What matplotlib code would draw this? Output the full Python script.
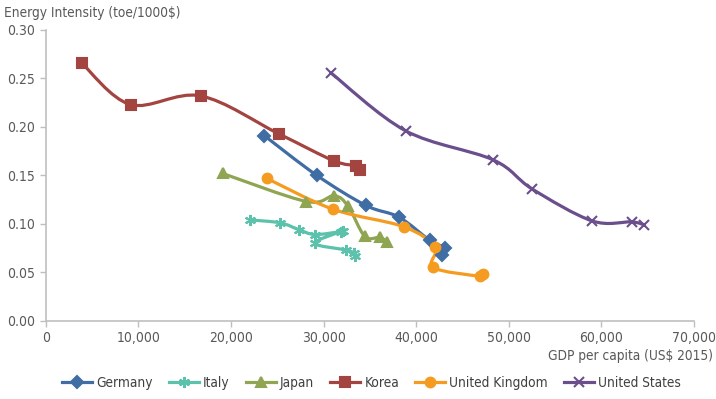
import numpy as np
import matplotlib
matplotlib.use("Agg")
import matplotlib.pyplot as plt
from matplotlib.path import Path
from matplotlib.patches import PathPatch
from matplotlib.lines import Line2D
from matplotlib.ticker import FuncFormatter, MultipleLocator

plt.rcParams['font.family'] = ['DejaVu Sans']
plt.rcParams['font.stretch'] = 'condensed'

# GDP per capita (US$ 2015) and energy intensity (toe/1000$)
germany_x = [23600, 29270, 34570, 38130, 41480, 43100, 42750]
germany_y = [0.191, 0.150, 0.119, 0.107, 0.083, 0.075, 0.068]

italy_x = [22110, 25350, 27330, 29060, 31840, 32120, 29060, 32410, 33270, 33430]
italy_y = [0.104, 0.101, 0.094, 0.089, 0.092, 0.093, 0.080, 0.073, 0.070, 0.067]

japan_x = [19090, 28160, 31140, 32660, 34460, 36080, 36870]
japan_y = [0.152, 0.123, 0.129, 0.118, 0.087, 0.086, 0.081]

korea_x = [3860, 9150, 16710, 25140, 31110, 33490, 33920]
korea_y = [0.266, 0.223, 0.232, 0.193, 0.165, 0.160, 0.156]

uk_x = [23840, 31040, 38670, 42050, 41840, 46880, 47200]
uk_y = [0.147, 0.115, 0.097, 0.076, 0.055, 0.046, 0.048]

us_x = [30760, 38860, 48320, 52530, 59020, 63270, 64630]
us_y = [0.256, 0.196, 0.166, 0.136, 0.103, 0.102, 0.099]

names = ["Germany", "Italy", "Japan", "Korea", "United Kingdom", "United States"]
series_x = [germany_x, italy_x, japan_x, korea_x, uk_x, us_x]
series_y = [germany_y, italy_y, japan_y, korea_y, uk_y, us_y]
colors = ["#3F6DA4", "#5CC2AC", "#8FA552", "#A34441", "#F49B20", "#6A4F8C"]
markers = ["D", (6, 2, 0), "^", "s", "o", "x"]
msizes = [6, 8, 6.5, 7, 7, 7]


def smooth_path(xs, ys):
    # Excel-like smoothed line: cubic Bezier through points (Catmull-Rom control points)
    p = np.column_stack([xs, ys]).astype(float)
    n = len(p)
    verts = [p[0]]
    codes = [Path.MOVETO]
    for i in range(n - 1):
        p0 = p[i - 1] if i > 0 else p[i]
        p3 = p[i + 2] if i + 2 < n else p[i + 1]
        c1 = p[i] + (p[i + 1] - p0) / 6.0
        c2 = p[i + 1] - (p3 - p[i]) / 6.0
        verts += [c1, c2, p[i + 1]]
        codes += [Path.CURVE4] * 3
    return Path(verts, codes)


fig = plt.figure(figsize=(7.16, 3.99), dpi=100)
ax = fig.add_axes([0.064, 0.196, 0.905, 0.729])

handles = []
for xs, ys, c, m, ms, name in zip(series_x, series_y, colors, markers, msizes, names):
    ax.add_patch(PathPatch(smooth_path(xs, ys), facecolor="none", edgecolor=c, lw=2.3,
                           capstyle="round", joinstyle="round", zorder=2))
    ax.plot(xs, ys, ls="none", marker=m, ms=ms, color=c, mec=c, mew=1.5, zorder=3)
    handles.append(Line2D([], [], color=c, lw=2.3, marker=m, ms=ms, mec=c, mew=1.5, label=name))

ax.set_xlim(0, 70000)
ax.set_ylim(0, 0.30)
ax.xaxis.set_major_locator(MultipleLocator(10000))
ax.yaxis.set_major_locator(MultipleLocator(0.05))
ax.xaxis.set_major_formatter(FuncFormatter(lambda v, p: f"{int(v):,}"))
ax.yaxis.set_major_formatter(FuncFormatter(lambda v, p: f"{v:.2f}"))

for s in ["top", "right"]:
    ax.spines[s].set_visible(False)
for s in ["left", "bottom"]:
    ax.spines[s].set_color("#BFBFBF")
    ax.spines[s].set_linewidth(1.2)
ax.tick_params(colors="#BFBFBF", labelcolor="#595959", labelsize=10, length=4, width=1)

fig.text(0.006, 0.967, "Energy Intensity (toe/1000$)", fontsize=9.8, color="#595959",
         ha="left", va="center")
fig.text(0.996, 0.108, "GDP per capita (US$ 2015)", fontsize=9.8, color="#595959",
         ha="right", va="center")

fig.legend(handles=handles, loc="center", bbox_to_anchor=(0.519, 0.04), ncol=6,
           frameon=False, fontsize=9.8, labelcolor="#404040", handlelength=2.2,
           columnspacing=1.2, handletextpad=0.3)

fig.savefig("out.png", dpi=100)
